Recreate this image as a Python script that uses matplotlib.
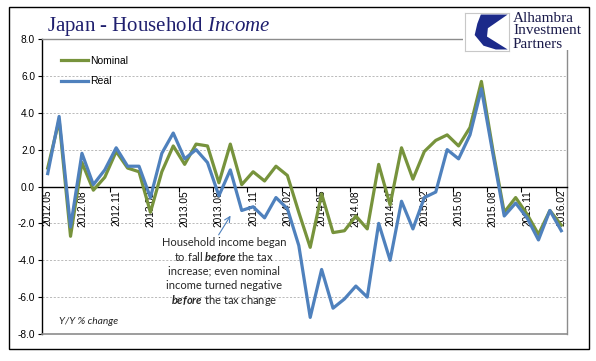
import numpy as np
import matplotlib.pyplot as plt
from matplotlib.patches import Rectangle, Polygon

plt.rcParams['mathtext.fontset'] = 'custom'
plt.rcParams['mathtext.it'] = 'Liberation Serif:italic'
plt.rcParams['mathtext.bfit'] = 'Lato:italic:bold'

# Y/Y % change, 2012.05 - 2016.02 (monthly)
nominal = [1.0, 3.6, -2.7, 1.3, -0.2, 0.5, 1.9, 1.0, 0.8, -1.4,
           0.8, 2.2, 1.2, 2.3, 2.2, 0.2, 2.3, 0.1, 0.8, 0.3,
           1.1, 0.6, -1.4, -3.3, -0.4, -2.5, -2.4, -1.6, -2.3, 1.2,
           -1.0, 2.1, 0.4, 1.9, 2.5, 2.8, 2.2, 3.2, 5.7, 2.0,
           -1.4, -0.6, -1.5, -2.6, -1.3, -2.1]
real = [0.7, 3.8, -2.2, 1.8, 0.1, 0.9, 2.1, 1.1, 1.1, -0.6,
        1.8, 2.9, 1.5, 2.0, 1.3, -0.5, 0.9, -1.3, -1.1, -1.7,
        -0.6, -1.2, -3.2, -7.1, -4.5, -6.6, -6.1, -5.4, -6.0, -2.0,
        -4.0, -0.8, -2.3, -0.6, -0.3, 2.0, 1.5, 2.8, 5.3, 1.8,
        -1.6, -0.9, -1.7, -2.9, -1.3, -2.4]
tick_labels = ["2012.05", "2012.08", "2012.11", "2013.02", "2013.05", "2013.08",
               "2013.11", "2014.02", "2014.05", "2014.08", "2014.11", "2015.02",
               "2015.05", "2015.08", "2015.11", "2016.02"]

W, H = 596, 361
fx = lambda px: px / W
fy = lambda py: 1 - py / H

fig = plt.figure(figsize=(W / 100, H / 100), dpi=100)
ax = fig.add_axes([fx(42), fy(334), (567 - 42) / W, (334 - 39) / H])

x = np.arange(len(nominal))
green = "#77933C"
blue = "#4F81BD"
ax.plot(x, nominal, color=green, lw=2.3, label="Nominal", zorder=3)
ax.plot(x, real, color=blue, lw=2.3, label="Real", zorder=4)

ax.set_xlim(-0.5, len(nominal) - 0.5)
ax.set_ylim(-8, 8)

# y axis
ax.set_yticks(np.arange(-8, 9, 2))
ax.set_yticklabels(["%.1f" % v for v in np.arange(-8, 9, 2)])
ax.tick_params(axis='y', direction='out', length=3, width=0.8, pad=2,
               labelsize=7.3, labelfontfamily='Liberation Sans')
for v in np.arange(-6, 7, 2):
    if v != 0:
        ax.axhline(v, color="#AFAFAF", lw=0.6, ls=(0, (2.5, 2)), zorder=1)

# x axis at zero
ax.spines['bottom'].set_position(('data', 0))
ax.spines['bottom'].set_linewidth(1.0)
ax.spines['left'].set_linewidth(1.0)
for s in ['top', 'right']:
    ax.spines[s].set_color("#8C8C8C")
    ax.spines[s].set_linewidth(1.0)
ax.axhline(-8, color="#8C8C8C", lw=1.2, clip_on=False, zorder=5)

lab_pos = np.arange(0, len(nominal), 3)
ax.set_xticks(lab_pos - 0.5)
ax.set_xticklabels([])
ax.set_xticks(lab_pos, minor=True)
ax.set_xticklabels(tick_labels, minor=True, rotation=90)
ax.tick_params(axis='x', which='major', direction='out', length=3.5, width=0.8)
ax.tick_params(axis='x', which='minor', length=0, pad=2.5, labelsize=7.3,
               labelfontfamily='Liberation Sans')

leg = ax.legend(loc='upper left', bbox_to_anchor=(fx(61), fy(56)),
                bbox_transform=fig.transFigure, frameon=False,
                prop={'family': 'Liberation Sans', 'size': 7.5},
                handlelength=2.6, handletextpad=0.15, labelspacing=1.0,
                borderpad=0, borderaxespad=0)

# annotation
ax.annotate("", xy=(16.15, -1.45), xytext=(14.85, -2.75),
            arrowprops=dict(arrowstyle='->', color=blue, lw=0.8), zorder=6)
ann_lines = ["Household income began",
             r"to fall $\mathbfit{before}$ the tax",
             "increase; even nominal",
             "income turned negative",
             r"$\mathbfit{before}$ the tax change"]
for k, t in enumerate(ann_lines):
    ax.text(15.45, -3.02 - k * 0.785, t, ha='center', va='center',
            family='Lato', size=8, color="#262626", zorder=6)

ax.text(0.95, -7.3, "Y/Y % change", family='Lato', style='italic', size=7.4,
        color="#262626", va='center')

# title
fig.text(fx(47), fy(27), r"Japan - Household $\mathit{Income}$",
         family='Liberation Serif', size=15, color="#1F1F6E", va='center')

# outer frame and logo box
fig.patches.append(Rectangle((fx(9), fy(349)), 580 / W, 342 / H, fill=False,
                             edgecolor='black', lw=1.0, transform=fig.transFigure,
                             zorder=10))
fig.patches.append(Rectangle((fx(463), fy(50)), 120 / W, 42 / H, facecolor='white',
                             edgecolor='none', transform=fig.transFigure, zorder=5))
lax = fig.add_axes([fx(465), fy(51), 44 / W, 38 / H], zorder=6)
lax.set_xlim(0, 1)
lax.set_ylim(0, 1)
lax.set_xticks([])
lax.set_yticks([])
for s in lax.spines.values():
    s.set_color("#C8C8C8")
    s.set_linewidth(0.8)
lax.add_patch(Polygon([(0.36, 0.96), (0.97, 0.96), (0.52, 0.6), (0.5, 0.38),
                       (0.97, 0.04), (0.7, 0.04), (0.42, 0.14), (0.22, 0.42),
                       (0.28, 0.72)], closed=True, facecolor="#1C2A8A",
                      edgecolor='none'))
for k, t in enumerate(["Alhambra", "Investment", "Partners"]):
    fig.text(fx(513), fy(18 + k * 13), t, family='Liberation Serif', size=11,
             color="#1A1A4A", va='center', zorder=7)

fig.savefig("out.png", dpi=100)
